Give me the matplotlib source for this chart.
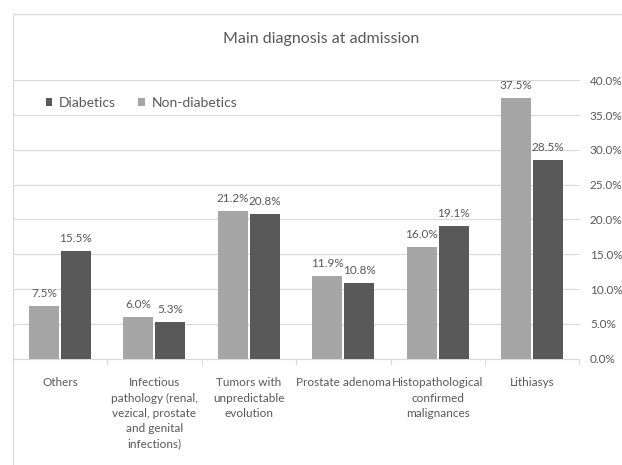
import matplotlib
matplotlib.use("Agg")
import matplotlib.pyplot as plt
import numpy as np
from matplotlib.patches import Rectangle
from matplotlib.ticker import FixedLocator

plt.rcParams['font.family'] = ['Lato', 'DejaVu Sans']

categories = ["Others",
              "Infectious\npathology (renal,\nvezical, prostate\nand genital\ninfections)",
              "Tumors with\nunpredictable\nevolution",
              "Prostate adenoma",
              "Histopathological\nconfirmed\nmalignances",
              "Lithiasys"]
non_diabetics = [7.5, 6.0, 21.2, 11.9, 16.0, 37.5]
diabetics = [15.5, 5.3, 20.8, 10.8, 19.1, 28.5]
y_ticks = [0, 5, 10, 15, 20, 25, 30, 35, 40]

W, H = 622, 465
text_col = "#595959"
grid_col = "#d9d9d9"
light = "#a6a6a6"
dark = "#595959"

fig = plt.figure(figsize=(W / 100, H / 100), dpi=100)
fig.patch.set_facecolor("white")

# plot area in pixel coordinates
left, right, top, bottom = 12.7, 579.5, 80.5, 358.5
ax = fig.add_axes([left / W, 1 - bottom / H, (right - left) / W, (bottom - top) / H])

x = np.arange(len(categories))
bw = 0.317
off = 0.169
b_non = ax.bar(x - off, non_diabetics, bw, color=light, zorder=3)
b_dia = ax.bar(x + off, diabetics, bw, color=dark, zorder=3)

for bars, vals in ((b_non, non_diabetics), (b_dia, diabetics)):
    for b, v in zip(bars, vals):
        ax.annotate(f"{v:.1f}%", (b.get_x() + b.get_width() / 2, v),
                    xytext=(0, 5), textcoords="offset points",
                    ha="center", va="bottom", fontsize=8.5, color=text_col)

ax.set_xlim(-0.5, len(categories) - 0.5)
ax.set_ylim(0, 40)

ax.yaxis.tick_right()
ax.set_yticks(y_ticks)
ax.set_yticklabels([f"{t:.1f}%" for t in y_ticks])
ax.tick_params(axis="y", length=0, pad=7.5, labelsize=8.5, labelcolor=text_col)
ax.grid(axis="y", color=grid_col, linewidth=0.8, zorder=0)

ax.set_xticks(x)
ax.set_xticklabels(categories, fontsize=8.5, color=text_col, linespacing=1.48, va="top")
ax.tick_params(axis="x", which="major", length=0, pad=13.5)
ax.xaxis.set_minor_locator(FixedLocator(np.arange(-0.5, len(categories), 1.0)))
ax.tick_params(axis="x", which="minor", length=4, color=grid_col, width=0.8)

for s in ("top", "left", "right"):
    ax.spines[s].set_visible(False)
ax.spines["bottom"].set_color(grid_col)
ax.spines["bottom"].set_linewidth(0.8)

# chart border
fig.patches.append(Rectangle((left / W, -0.05), 1.2, 1 - 14 / H + 0.05,
                             transform=fig.transFigure, fill=False,
                             edgecolor=grid_col, linewidth=0.8))

fig.text(321 / W, 1 - 39 / H, "Main diagnosis at admission",
         ha="center", va="center", fontsize=11.5, color=text_col)

leg = fig.legend([b_dia, b_non], ["Diabetics", "Non-diabetics"],
                 loc="center left", bbox_to_anchor=(39 / W, 1 - 103 / H),
                 ncol=2, frameon=False, fontsize=10, borderpad=0,
                 handlelength=0.45, handleheight=0.45, handletextpad=0.5,
                 columnspacing=1.6)
for t in leg.get_texts():
    t.set_color(text_col)

fig.savefig("out.png", dpi=100)
